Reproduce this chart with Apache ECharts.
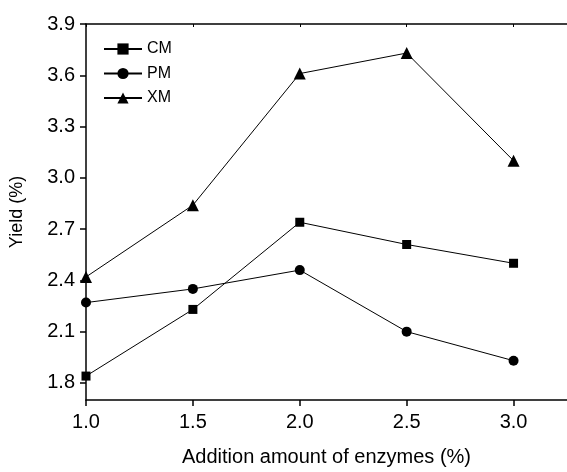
<!DOCTYPE html>
<html>
<head>
<meta charset="utf-8">
<script src="https://cdn.jsdelivr.net/npm/echarts@6/dist/echarts.min.js"></script>
<style>html,body{margin:0;padding:0;background:#fff}#c{width:567px;height:472px}</style>
</head>
<body>
<div id="c"></div>
<script>
var xValues = [1.0, 1.5, 2.0, 2.5, 3.0];
var cmValues = [1.84, 2.23, 2.74, 2.61, 2.50];
var pmValues = [2.27, 2.35, 2.46, 2.10, 1.93];
var xmValues = [2.42, 2.84, 3.61, 3.73, 3.10];
var seriesNames = ['CM', 'PM', 'XM'];
var yTicks = [1.8, 2.1, 2.4, 2.7, 3.0, 3.3, 3.6, 3.9];
var xTicks = [1.0, 1.5, 2.0, 2.5, 3.0];

function pairs(vals) { return xValues.map(function (x, i) { return [x, vals[i]]; }); }

var font = 'Liberation Sans, Arial, sans-serif';
var chart = echarts.init(document.getElementById('c'), null, {renderer: 'canvas'});
var lineStyle = {color: '#000', width: 1};
function mk(name, vals, symbol, size) {
  return {
    name: name, type: 'line', data: pairs(vals), symbol: symbol, symbolSize: size,
    itemStyle: {color: '#000'}, lineStyle: lineStyle, emphasis: {disabled: true}, animation: false
  };
}
chart.setOption({
  animation: false,
  backgroundColor: '#fff',
  grid: {left: 80, top: 24, right: -4, bottom: 65, containLabel: false},
  legend: {
    orient: 'vertical', left: 98, top: 36, itemWidth: 38, itemHeight: 14, itemGap: 8.5,
    data: seriesNames,
    textStyle: {fontFamily: font, fontSize: 16, color: '#000'}
  },
  xAxis: [{
    type: 'value', min: 1, max: 3.25, position: 'bottom',
    name: 'Addition amount of enzymes (%)', nameLocation: 'middle', nameGap: 47,
    nameTextStyle: {fontFamily: font, fontSize: 20, color: '#000'},
    axisLine: {onZero: false, lineStyle: {color: '#000', width: 1.5}},
    axisTick: {inside: false, length: 6, customValues: xTicks, lineStyle: {color: '#000', width: 1.5}},
    axisLabel: {fontFamily: font, fontSize: 20, color: '#000', margin: 12, customValues: xTicks,
      formatter: function (v) { return v.toFixed(1); }},
    splitLine: {show: false}
  }, {
    type: 'value', min: 1, max: 3.25, position: 'top',
    axisLine: {onZero: false, lineStyle: {color: '#000', width: 1.5}},
    axisTick: {inside: true, length: 3, customValues: xTicks, lineStyle: {color: '#000', width: 1}},
    axisLabel: {show: false}, splitLine: {show: false}
  }],
  yAxis: {
    type: 'value', min: 1.7, max: 3.9,
    name: 'Yield (%)', nameLocation: 'middle', nameGap: 60,
    nameTextStyle: {fontFamily: font, fontSize: 18, color: '#000'},
    axisLine: {show: true, onZero: false, lineStyle: {color: '#000', width: 1.5}},
    axisTick: {show: true, inside: false, length: 6, customValues: yTicks, lineStyle: {color: '#000', width: 1.5}},
    axisLabel: {fontFamily: font, fontSize: 20, color: '#000', margin: 11, customValues: yTicks,
      formatter: function (v) { return v.toFixed(1); }},
    splitLine: {show: false}
  },
  series: [
    mk('CM', cmValues, 'rect', 9),
    mk('PM', pmValues, 'circle', 10),
    mk('XM', xmValues, 'triangle', 12)
  ]
});
</script>
</body>
</html>
